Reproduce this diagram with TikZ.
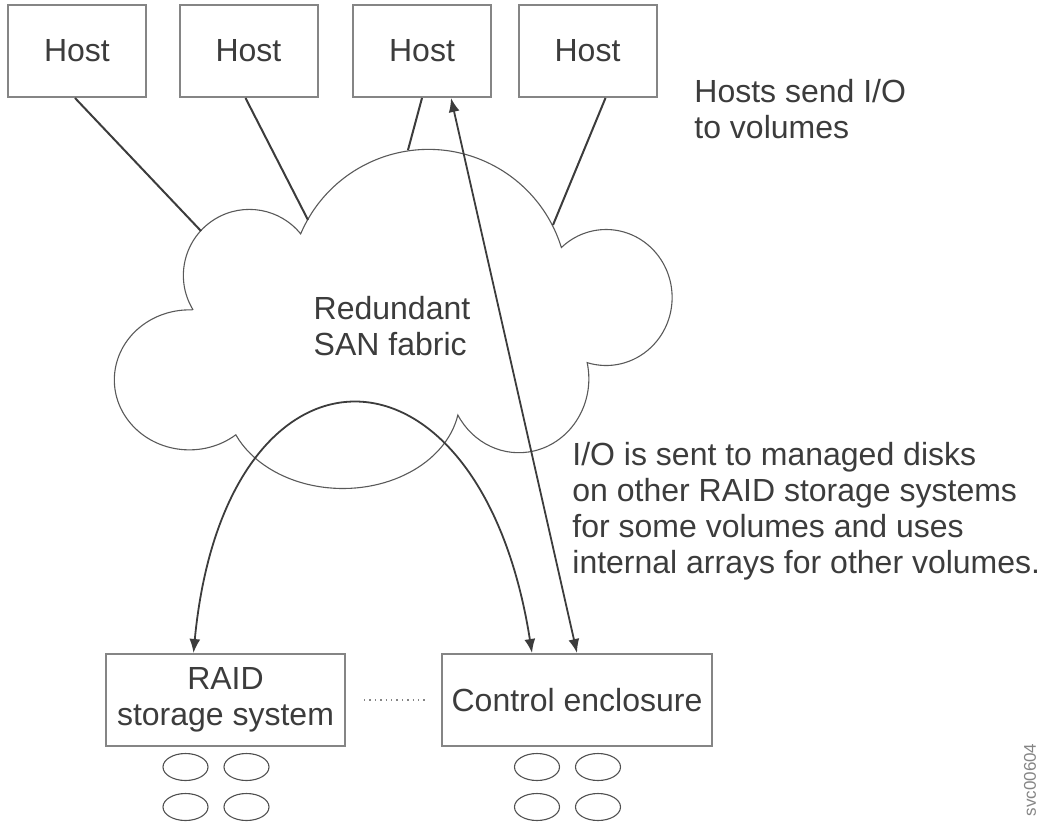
\documentclass[tikz,border=0pt]{standalone}
\usepackage{fontspec}
\setmainfont{Liberation Sans}
\usetikzlibrary{arrows.meta,calc,positioning,shapes.geometric}
\definecolor{ink}{HTML}{3C3C3C}
\definecolor{edge}{HTML}{858585}
\begin{document}
\begin{tikzpicture}[x=0.5pt,y=-0.5pt,
  every node/.style={text=ink,font=\fontsize{16}{18}\selectfont,inner sep=0pt},
  unit/.style={draw=edge,line width=1pt,minimum height=46pt,align=center},
  wire/.style={draw=ink,line width=1pt},
  io/.style={draw=ink,line width=0.9pt,{Latex[length=7pt,width=5.5pt]}-{Latex[length=7pt,width=5.5pt]}},
  cloud/.style={draw=ink!85,line width=0.55pt},
  disk/.style={draw=ink!90,line width=0.55pt,ellipse,minimum width=22.5pt,minimum height=13.5pt}]
\useasboundingbox (0,0) rectangle (1049,830);
\draw[cloud] (192.8,309.4) arc[start angle=149,end angle=321,radius=66]
  arc[start angle=203.1,end angle=342.9,radius=139]
  arc[start angle=227.3,end angle=466.7,x radius=66,y radius=68]
  arc[start angle=-12.55,end angle=150.6,x radius=70,y radius=74]
  arc[start angle=10.6,end angle=156.2,x radius=117,y radius=90]
  arc[start angle=51.7,end angle=272,x radius=75,y radius=70] -- cycle;
\node[align=left] (fabric) at (392,326) {Redundant\\SAN fabric};
\foreach \x [count=\i] in {77,248.5,422,587.5}
  \node[unit,minimum width=69pt] (h\i) at (\x,51) {Host};
\coordinate (f1) at (201,231);
\coordinate (f2) at (308,220);
\coordinate (f3) at (408,150);
\coordinate (f4) at (553,225);
\foreach \i/\dx in {1/-2,2/-3,3/0,4/18}
  \draw[wire] ($(h\i.south)+(\dx,0)$) -- (f\i);
\node[unit,minimum width=119.5pt] (raid) at (225.5,700) {RAID\\storage system};
\node[unit,minimum width=135pt] (ctrl) at (577,700) {Control enclosure};
\draw[dotted,edge,line width=0.7pt,shorten <=9pt,shorten >=7pt] (raid) -- (ctrl);
\draw[io] ($(raid.north)+(-32,0)$) .. controls (225,322) and (480,322) .. ($(ctrl.north)+(-45,0)$);
\draw[io] (ctrl.north) -- ($(h3.south)+(29,0)$);
\foreach \b in {raid,ctrl}
  \foreach \dx/\c in {-40/a,21/b}
    \foreach \dy/\r in {67/1,107/2}
      \node[disk] (\b\c\r) at ($(\b)+(\dx,\dy)$) {};
\node[anchor=west,align=left] (hostnote) at (694,109) {Hosts send I/O\\to volumes};
\node[anchor=west,align=left] (ionote) at (572,511) {I/O is sent to managed disks\\on other RAID storage systems\\for some volumes and uses\\internal arrays for other volumes.};
\node[rotate=90,text=edge,font=\fontsize{8.5}{10}\selectfont] (figid) at (1030,780) {svc00604};
\end{tikzpicture}
\end{document}
